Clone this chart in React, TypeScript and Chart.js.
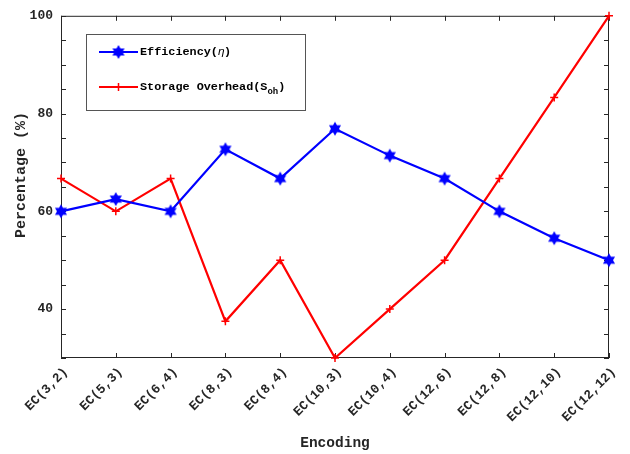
import React, { useEffect, useRef } from "react";
import { Chart, registerables } from "chart.js";

Chart.register(...registerables);

const categories = [
  "EC(3,2)", "EC(5,3)", "EC(6,4)", "EC(8,3)", "EC(8,4)", "EC(10,3)",
  "EC(10,4)", "EC(12,6)", "EC(12,8)", "EC(12,10)", "EC(12,12)",
];
const efficiency = [60, 62.5, 60, 72.7, 66.7, 76.9, 71.4, 66.7, 60, 54.5, 50];
const storageOverhead = [66.7, 60, 66.7, 37.5, 50, 30, 40, 50, 66.7, 83.3, 100];
const yMajorTicks = [40, 60, 80, 100];
const yMinorStep = 5;
const yMin = 30;
const yMax = 100;
const xTitle = "Encoding";
const yTitle = "Percentage (%)";

const MONO = "'Liberation Mono', 'DejaVu Sans Mono', monospace";
const BLUE = "#0000ff";
const RED = "#ff0000";
const INK = "#262626";

function makeHexagram(color: string): HTMLCanvasElement {
  const c = document.createElement("canvas");
  const size = 16;
  c.width = size;
  c.height = size;
  const g = c.getContext("2d")!;
  const cx = size / 2;
  const cy = size / 2;
  const R = 7;
  const r = 4;
  g.beginPath();
  for (let i = 0; i < 12; i++) {
    const ang = -Math.PI / 2 + (i * Math.PI) / 6;
    const rad = i % 2 === 0 ? R : r;
    const x = cx + rad * Math.cos(ang);
    const y = cy + rad * Math.sin(ang);
    if (i === 0) g.moveTo(x, y);
    else g.lineTo(x, y);
  }
  g.closePath();
  g.fillStyle = color;
  g.fill();
  return c;
}

// Box frame, inward ticks on all four sides, slanted category labels and the y title
const framePlugin = {
  id: "frameTicks",
  beforeDatasetsDraw(chart: any) {
    const { ctx, chartArea } = chart;
    const { left, right, top, bottom } = chartArea;
    const yScale = chart.scales.y;
    const xScale = chart.scales.x;
    ctx.save();
    ctx.strokeStyle = INK;
    ctx.lineWidth = 1;
    ctx.strokeRect(left + 0.5, top + 0.5, right - left - 1, bottom - top - 1);
    ctx.beginPath();
    const tl = 5;
    for (let v = yMin; v <= yMax; v += yMinorStep) {
      const y = Math.round(yScale.getPixelForValue(v)) + 0.5;
      ctx.moveTo(left, y);
      ctx.lineTo(left + tl, y);
      ctx.moveTo(right, y);
      ctx.lineTo(right - tl, y);
    }
    categories.forEach((_, i) => {
      const x = Math.round(xScale.getPixelForValue(i)) + 0.5;
      ctx.moveTo(x, bottom);
      ctx.lineTo(x, bottom - tl);
      ctx.moveTo(x, top);
      ctx.lineTo(x, top + tl);
    });
    ctx.stroke();

    ctx.fillStyle = INK;
    ctx.font = `bold 13px ${MONO}`;
    ctx.textAlign = "right";
    ctx.textBaseline = "middle";
    categories.forEach((label, i) => {
      const x = xScale.getPixelForValue(i);
      ctx.save();
      ctx.translate(x + 5, bottom + 12);
      ctx.rotate(-Math.PI / 4);
      ctx.fillText(label, 0, 0);
      ctx.restore();
    });

    ctx.font = `bold 15px ${MONO}`;
    ctx.textAlign = "center";
    ctx.save();
    ctx.translate(21, 175);
    ctx.rotate(-Math.PI / 2);
    ctx.fillText(yTitle, 0, 0);
    ctx.restore();

    ctx.font = `bold 14.5px ${MONO}`;
    ctx.fillText(xTitle, (left + right) / 2, 443);
    ctx.restore();
  },
};

function legendPlugin(star: HTMLCanvasElement) {
  return {
    id: "boxLegend",
    afterDraw(chart: any) {
      const { ctx } = chart;
      ctx.save();
      const bx = 86;
      const by = 34;
      const bw = 219;
      const bh = 76;
      ctx.fillStyle = "#ffffff";
      ctx.fillRect(bx, by, bw, bh);
      ctx.strokeStyle = "#555555";
      ctx.lineWidth = 1;
      ctx.strokeRect(bx + 0.5, by + 0.5, bw, bh);

      const lx0 = 99;
      const lx1 = 138;
      const mx = (lx0 + lx1) / 2;
      const tx = 140;
      const y1 = 52;
      const y2 = 87;

      ctx.lineWidth = 2;
      ctx.strokeStyle = BLUE;
      ctx.beginPath();
      ctx.moveTo(lx0, y1);
      ctx.lineTo(lx1, y1);
      ctx.stroke();
      ctx.drawImage(star, mx - star.width / 2, y1 - star.height / 2);

      ctx.strokeStyle = RED;
      ctx.beginPath();
      ctx.moveTo(lx0, y2);
      ctx.lineTo(lx1, y2);
      ctx.stroke();
      ctx.lineWidth = 1.5;
      ctx.beginPath();
      ctx.moveTo(mx - 4, y2);
      ctx.lineTo(mx + 4, y2);
      ctx.moveTo(mx, y2 - 4);
      ctx.lineTo(mx, y2 + 4);
      ctx.stroke();

      ctx.fillStyle = "#000000";
      ctx.textBaseline = "middle";
      ctx.textAlign = "left";
      const bold = `bold 11.8px ${MONO}`;
      ctx.font = bold;
      let x = tx;
      const t1 = "Efficiency(";
      ctx.fillText(t1, x, y1);
      x += ctx.measureText(t1).width;
      ctx.font = `italic 11.8px ${MONO}`;
      ctx.fillText("η", x, y1);
      x += ctx.measureText("η").width - 1;
      ctx.font = bold;
      ctx.fillText(")", x, y1);

      x = tx;
      const t2 = "Storage Overhead(S";
      ctx.fillText(t2, x, y2);
      x += ctx.measureText(t2).width;
      ctx.font = `bold 9px ${MONO}`;
      ctx.fillText("oh", x, y2 + 5);
      x += ctx.measureText("oh").width;
      ctx.font = bold;
      ctx.fillText(")", x, y2);
      ctx.restore();
    },
  };
}

export default function App() {
  const canvasRef = useRef<HTMLCanvasElement | null>(null);

  useEffect(() => {
    document.body.style.margin = "0";
    const canvas = canvasRef.current;
    if (!canvas) return;
    const star = makeHexagram(BLUE);

    const chart = new Chart(canvas, {
      type: "line",
      data: {
        labels: categories,
        datasets: [
          {
            label: "Efficiency(η)",
            data: efficiency,
            borderColor: BLUE,
            backgroundColor: BLUE,
            borderWidth: 2.2,
            pointStyle: star as any,
            pointRadius: 6,
            clip: false as any,
          },
          {
            label: "Storage Overhead(Soh)",
            data: storageOverhead,
            borderColor: RED,
            backgroundColor: RED,
            borderWidth: 2.2,
            pointStyle: "cross",
            pointRadius: 4,
            pointBorderWidth: 1.5,
            clip: false as any,
          },
        ],
      },
      options: {
        animation: false,
        responsive: false,
        maintainAspectRatio: false,
        layout: { padding: { top: 14, right: 21, left: 0, bottom: 0 } },
        plugins: {
          legend: { display: false },
          tooltip: { enabled: false },
        },
        scales: {
          x: {
            type: "category",
            offset: false,
            grid: { display: false, drawTicks: false },
            border: { display: false },
            ticks: { display: false },
            afterFit(scale: any) {
              scale.height = 96;
            },
          },
          y: {
            type: "linear",
            min: yMin,
            max: yMax,
            grid: { display: false, drawTicks: false },
            border: { display: false },
            ticks: {
              padding: 8,
              color: INK,
              font: { family: MONO, size: 13, weight: "bold" },
            },
            afterBuildTicks(scale: any) {
              scale.ticks = yMajorTicks.map((v) => ({ value: v }));
            },
            afterFit(scale: any) {
              scale.width = 61;
            },
          },
        },
      },
      plugins: [framePlugin, legendPlugin(star)],
    });

    return () => chart.destroy();
  }, []);

  return <canvas ref={canvasRef} width={630} height={454} style={{ display: "block" }} />;
}
